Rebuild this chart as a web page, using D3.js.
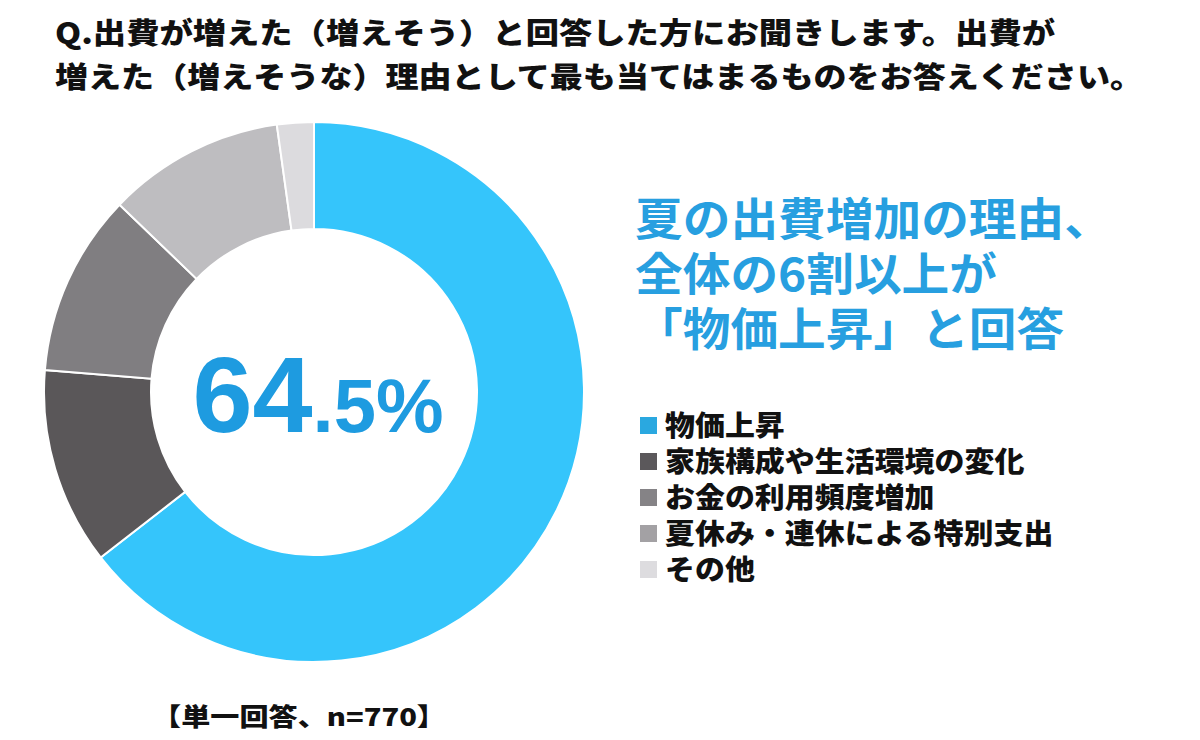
<!DOCTYPE html>
<html>
<head>
<meta charset="utf-8">
<script src="https://cdn.jsdelivr.net/npm/d3@7"></script>
<style>
  body { margin: 0; background: #ffffff; }
  text { font-family: "Noto Sans CJK JP", "Noto Sans", sans-serif; }
</style>
</head>
<body>
<svg id="chart"></svg>
<script>
// data
const categories = ["物価上昇", "家族構成や生活環境の変化", "お金の利用頻度増加", "夏休み・連休による特別支出", "その他"];
const shares = [64.5, 11.8, 10.9, 10.6, 2.2];
const titleLines = ["Q.出費が増えた（増えそう）と回答した方にお聞きします。出費が", "増えた（増えそうな）理由として最も当てはまるものをお答えください。"];
const headlineLines = ["夏の出費増加の理由、", "全体の6割以上が", "「物価上昇」と回答"];
const note = "【単一回答、n=770】";

const sliceColors = ["#35c5fb", "#5a5759", "#807e81", "#bebdc0", "#dcdbde"];
const keyColors = ["#2aa8e0", "#5b585b", "#858386", "#a3a1a4", "#dddcdf"];

const width = 1200, height = 740;
const cx = 314, cy = 392;
const outerR = 270, innerR = 163;

const svg = d3.select("#chart")
    .attr("width", width)
    .attr("height", height);

// question title, two lines in one text
const titleWidths = [1000, 1088];
svg.append("text")
    .attr("font-size", 29)
    .attr("font-weight", 900)
    .attr("fill", "#111")
    .selectAll("tspan")
    .data(titleLines)
    .join("tspan")
    .attr("x", 55)
    .attr("y", (d, i) => 44 + i * 44)
    .attr("textLength", (d, i) => titleWidths[i])
    .attr("lengthAdjust", "spacingAndGlyphs")
    .text(d => d);

// donut
const pie = d3.pie().sort(null).value(d => d);
const arc = d3.arc().innerRadius(innerR).outerRadius(outerR);

const g = svg.append("g").attr("transform", `translate(${cx},${cy})`);
g.selectAll("path")
    .data(pie(shares))
    .join("path")
    .attr("d", arc)
    .attr("fill", (d, i) => sliceColors[i])
    .attr("stroke", "#fff")
    .attr("stroke-width", 2);

// big number in the hole
const fmt = d3.format(".1f");
const parts = fmt(shares[0]).split(".");
const big = svg.append("text")
    .attr("x", 318)
    .attr("y", 432)
    .attr("text-anchor", "middle")
    .attr("fill", "#1e9be0")
    .attr("font-weight", 700)
    .style("font-family", "'Liberation Sans', Arial, sans-serif");
big.append("tspan").attr("font-size", 108).text(parts[0]);
big.append("tspan").attr("font-size", 76).text("." + parts[1] + "%");

// headline (glyphs are a bit wide in the original, so stretch sideways)
svg.append("g")
    .attr("transform", "translate(635,0) scale(1.06,1)")
    .append("text")
    .attr("font-size", 45)
    .attr("font-weight", 700)
    .attr("fill", "#279fe0")
    .selectAll("tspan")
    .data(headlineLines)
    .join("tspan")
    .attr("x", 0)
    .attr("y", (d, i) => 236 + i * 55)
    .text(d => d);

// legend
const keyRow = d3.scaleLinear().domain([0, 1]).range([425, 461]);
svg.selectAll("rect.key")
    .data(categories)
    .join("rect")
    .attr("class", "key")
    .attr("x", 640)
    .attr("y", (d, i) => keyRow(i) - 8)
    .attr("width", 17).attr("height", 17)
    .attr("fill", (d, i) => keyColors[i]);
svg.append("g")
    .attr("transform", "translate(665,0) scale(1.07,1)")
    .append("text")
    .attr("font-size", 28)
    .attr("font-weight", 900)
    .attr("fill", "#111")
    .selectAll("tspan")
    .data(categories)
    .join("tspan")
    .attr("x", 0)
    .attr("y", (d, i) => keyRow(i) + 11)
    .text(d => d);

// sample note
svg.append("text")
    .attr("x", 152)
    .attr("y", 726)
    .attr("font-size", 25)
    .attr("font-weight", 900)
    .attr("fill", "#111")
    .attr("textLength", 294)
    .attr("lengthAdjust", "spacingAndGlyphs")
    .text(note);
</script>
</body>
</html>
